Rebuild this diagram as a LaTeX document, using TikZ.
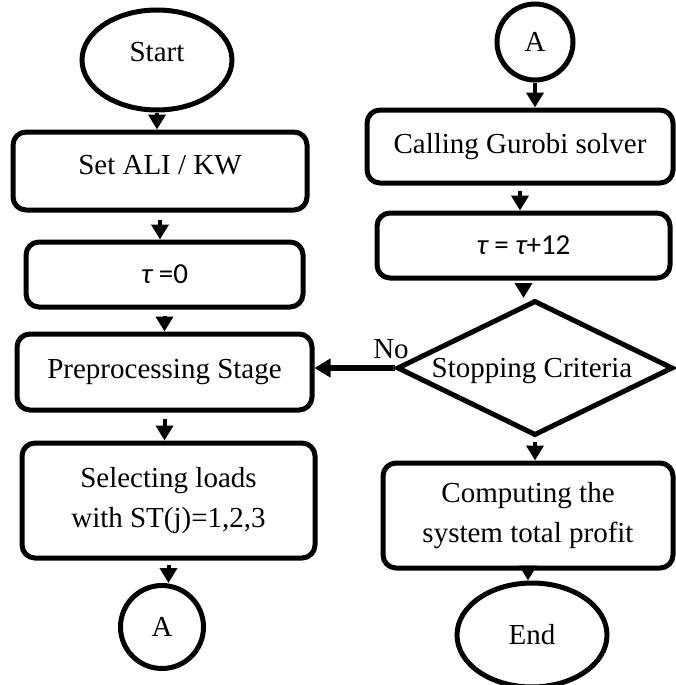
\documentclass[tikz,border=0pt]{standalone}
\usepackage{fontspec}
\setmainfont{Liberation Serif}
\newfontfamily\calfont{Carlito}
\usetikzlibrary{shapes.geometric,arrows.meta}
\begin{document}
\begin{tikzpicture}[x=1pt,y=-1pt,
  every node/.style={font=\fontsize{29}{40}\selectfont},
  box/.style={draw, line width=5pt, rounded corners=13pt, inner sep=0pt, align=center},
  term/.style={draw, ellipse, line width=5pt, inner sep=0pt},
  conn/.style={draw, circle, line width=5pt, inner sep=0pt},
  decision/.style={draw, diamond, line width=5pt, inner sep=0pt},
  arr/.style={line width=4pt, -{Triangle[length=15pt,width=17pt]}},
  noarr/.style={line width=6pt, -{Triangle[length=16pt,width=18pt]}}
]
\useasboundingbox (0,0) rectangle (676,685);

% left column
\node[term, minimum width=150pt, minimum height=100pt,
      label={[yshift=8pt]center:Start}] (start) at (157,60) {};
\node[box, minimum width=294pt, minimum height=78pt,
      label={[yshift=6pt]center:Set ALI / KW}] (setali) at (160,171) {};
\node[box, minimum width=277pt, minimum height=65pt, font=\calfont\fontsize{29}{40}\selectfont] (tau0) at (164.5,274.5) {\itshape τ\upshape\ =0};
\node[box, minimum width=295pt, minimum height=76pt] (prep) at (164.5,372) {Preprocessing Stage};
\node[box, minimum width=293pt, minimum height=115pt] (sel) at (168.5,500.5) {Selecting loads\\with ST(j)=1,2,3};
\node[conn, minimum size=83pt] (a1) at (162,627) {A};

% right column
\node[conn, minimum size=76pt] (a2) at (535,42) {A};
\node[box, minimum width=306pt, minimum height=73pt] (call) at (520,146.5) {Calling Gurobi solver};
\node[box, minimum width=293pt, minimum height=65pt, font=\calfont\fontsize{29}{40}\selectfont] (tau12) at (523.5,245.5) {\itshape τ\upshape\ = \itshape τ\upshape +12};
\node[decision, minimum width=276pt, minimum height=135pt,
      label={[xshift=-3pt,yshift=-3pt]center:Stopping Criteria}] (dec) at (535,368) {};
\node[box, minimum width=290pt, minimum height=105pt] (comp) at (528,515.5) {Computing the\\system total profit};
\node[term, minimum width=150pt, minimum height=104pt] (end) at (532,635) {End};
\node (no) at (391,349) {No};

% connectors
\draw[arr] (start.south) -- (start.south |- setali.north);
\draw[arr, shorten <=7pt] (setali.south) -- (setali.south |- tau0.north);
\draw[arr, shorten <=6pt] (tau0.south) -- (tau0.south |- prep.north);
\draw[arr, shorten <=6pt] (prep.south) -- (prep.south |- sel.north);
\draw[arr, shorten <=4pt] (sel.south) -- (sel.south |- a1.north);
\draw[arr] (a2.south) -- (a2.south |- call.north);
\draw[arr, shorten <=5pt] (call.south) -- (call.south |- tau12.north);
\draw[arr, shorten <=4pt] (tau12.south) -- (tau12.south |- dec.north);
\draw[noarr] (dec.west) -- (dec.west -| prep.east);
\draw[arr, shorten <=4pt] (dec.south) -- (dec.south |- comp.north);
\draw[arr] (comp.south) -- (comp.south |- end.north);
\end{tikzpicture}
\end{document}
